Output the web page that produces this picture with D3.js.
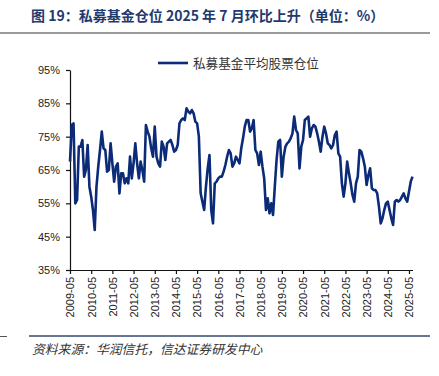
<!DOCTYPE html>
<html>
<head>
    <meta charset="utf-8">
    <title>私募基金仓位</title>
    <script src="https://d3js.org/d3.v7.min.js"></script>
    <style>
        body {
            margin: 0;
            background-color: white;
        }
        svg text {
            font-family: "Liberation Sans", Arial, sans-serif;
        }
        .cjk {
            font-family: "Noto Sans CJK SC", sans-serif !important;
        }
    </style>
</head>
<body>
<div id="chart"></div>
<script>
    // 月度数据，从 2009-05 开始，到 2025-07 结束（每行 12 个月）
    const position = [
        67.5, 78.5, 79, 55, 56, 72, 72, 74, 63, 65, 72.5, 60,
        57, 53, 47, 60, 66, 71, 76.5, 71.5, 71, 64.5, 65, 73,
        67, 61.5, 66, 67, 58, 64, 64, 61, 62.5, 61, 69, 62.5,
        67, 73, 67, 62.5, 67.5, 65, 61.5, 78.5, 76.5, 75, 71.5, 69,
        78, 69, 67, 66, 73.5, 72, 68, 73, 73.5, 74, 72.5, 70.5,
        71, 72.5, 79, 80, 80.5, 80, 83.5, 82.5, 82, 83, 82, 79.5,
        79, 75, 58, 55.5, 53, 60, 65.5, 69.5, 53, 49, 61, 61.5,
        62.5, 63, 63, 64.5, 66.5, 69, 71, 70, 66, 67, 69, 68,
        67, 71.5, 74.5, 78, 80, 80, 76.5, 77.5, 80, 71, 70, 66.5,
        70.5, 66, 62.5, 53, 56.5, 52, 55, 51.5, 60, 68, 73.5, 74,
        63, 69, 72, 73, 73.5, 74.5, 76, 81, 77, 76, 65.5, 72,
        74, 80, 80.5, 81, 75, 77.5, 78.5, 78, 76, 73.5, 70.5, 75,
        78, 76, 73, 72.5, 71.5, 72.5, 75.5, 76.5, 70, 69, 61, 57,
        61, 67.5, 64, 61, 57.5, 55.5, 61, 63, 71, 70.5, 68.5, 66,
        60.5, 63.5, 65.5, 59.5, 59, 59, 58, 54, 49, 50.5, 53, 55,
        55.5, 53, 50.5, 48.5, 55.5, 56, 55.5, 56, 57, 58, 56.5, 55.5,
        58.5, 61.5, 63
    ];

    const xTickLabels = ["2009-05", "2010-05", "2011-05", "2012-05", "2013-05", "2014-05",
        "2015-05", "2016-05", "2017-05", "2018-05", "2019-05", "2020-05", "2021-05",
        "2022-05", "2023-05", "2024-05", "2025-05"];
    const yTicks = [35, 45, 55, 65, 75, 85, 95];

    const titleText = "图 19：私募基金仓位 2025 年 7 月环比上升（单位：%）";
    const legendText = "私募基金平均股票仓位";
    const sourceText = "资料来源：华润信托，信达证券研发中心";

    const width = 439;
    const height = 376;
    const plot = { left: 70, right: 412.5, top: 70, bottom: 270 };
    const lineColor = "#0b2a78";

    const svg = d3.select("#chart")
        .append("svg")
        .attr("width", width)
        .attr("height", height);

    // month index -> x
    const x = d3.scaleLinear()
        .domain([0, position.length - 1])
        .range([plot.left, plot.right]);

    const y = d3.scaleLinear()
        .domain([35, 95])
        .range([plot.bottom, plot.top]);

    // title + grey rule
    svg.append("text")
        .attr("class", "cjk")
        .attr("x", 31)
        .attr("y", 20.5)
        .style("font-size", "14px")
        .style("font-weight", "bold")
        .style("fill", "#1f3a6e")
        .text(titleText);

    svg.append("line")
        .attr("x1", 0).attr("x2", 430)
        .attr("y1", 33).attr("y2", 33)
        .attr("stroke", "#9a9a9a")
        .attr("stroke-width", 2);

    // y axis
    const yAxis = svg.append("g")
        .attr("transform", `translate(${plot.left},0)`)
        .call(d3.axisLeft(y)
            .tickValues(yTicks)
            .tickSize(4)
            .tickSizeOuter(0)
            .tickPadding(6)
            .tickFormat(d => d + "%"));

    // x axis
    const tickIndex = xTickLabels.map((d, i) => i * 12);
    const xAxis = svg.append("g")
        .attr("transform", `translate(0,${plot.bottom})`)
        .call(d3.axisBottom(x)
            .tickValues(tickIndex)
            .tickSize(4)
            .tickSizeOuter(0)
            .tickFormat((d, i) => xTickLabels[i]));

    xAxis.selectAll("text")
        .attr("transform", "rotate(-90)")
        .attr("text-anchor", "end")
        .attr("x", -7)
        .attr("y", 0)
        .attr("dy", "0.35em");

    [yAxis, xAxis].forEach(g => {
        g.selectAll("text").style("font-size", "11px").style("fill", "#222");
        g.selectAll("path, line").attr("stroke", "#111").attr("stroke-width", 1.2);
    });

    // line
    const line = d3.line()
        .x((d, i) => x(i))
        .y(d => y(d));

    svg.append("path")
        .datum(position)
        .attr("fill", "none")
        .attr("stroke", lineColor)
        .attr("stroke-width", 2.6)
        .attr("stroke-linejoin", "round")
        .attr("d", line);

    // legend
    svg.append("line")
        .attr("x1", 158).attr("x2", 188)
        .attr("y1", 63).attr("y2", 63)
        .attr("stroke", lineColor)
        .attr("stroke-width", 2.6);

    svg.append("text")
        .attr("class", "cjk")
        .attr("x", 193)
        .attr("y", 67.5)
        .style("font-size", "12.6px")
        .style("fill", "#333")
        .text(legendText);

    // bottom rule + source
    svg.append("line")
        .attr("x1", 0).attr("x2", 7)
        .attr("y1", 336.5).attr("y2", 336.5)
        .attr("stroke", "#555")
        .attr("stroke-width", 1);

    svg.append("line")
        .attr("x1", 29).attr("x2", 430)
        .attr("y1", 336).attr("y2", 336)
        .attr("stroke", "#34496e")
        .attr("stroke-width", 1.6);

    svg.append("text")
        .attr("class", "cjk")
        .attr("x", 32)
        .attr("y", 353.5)
        .style("font-size", "12.8px")
        .style("font-style", "italic")
        .style("fill", "#333")
        .text(sourceText);
</script>
</body>
</html>
